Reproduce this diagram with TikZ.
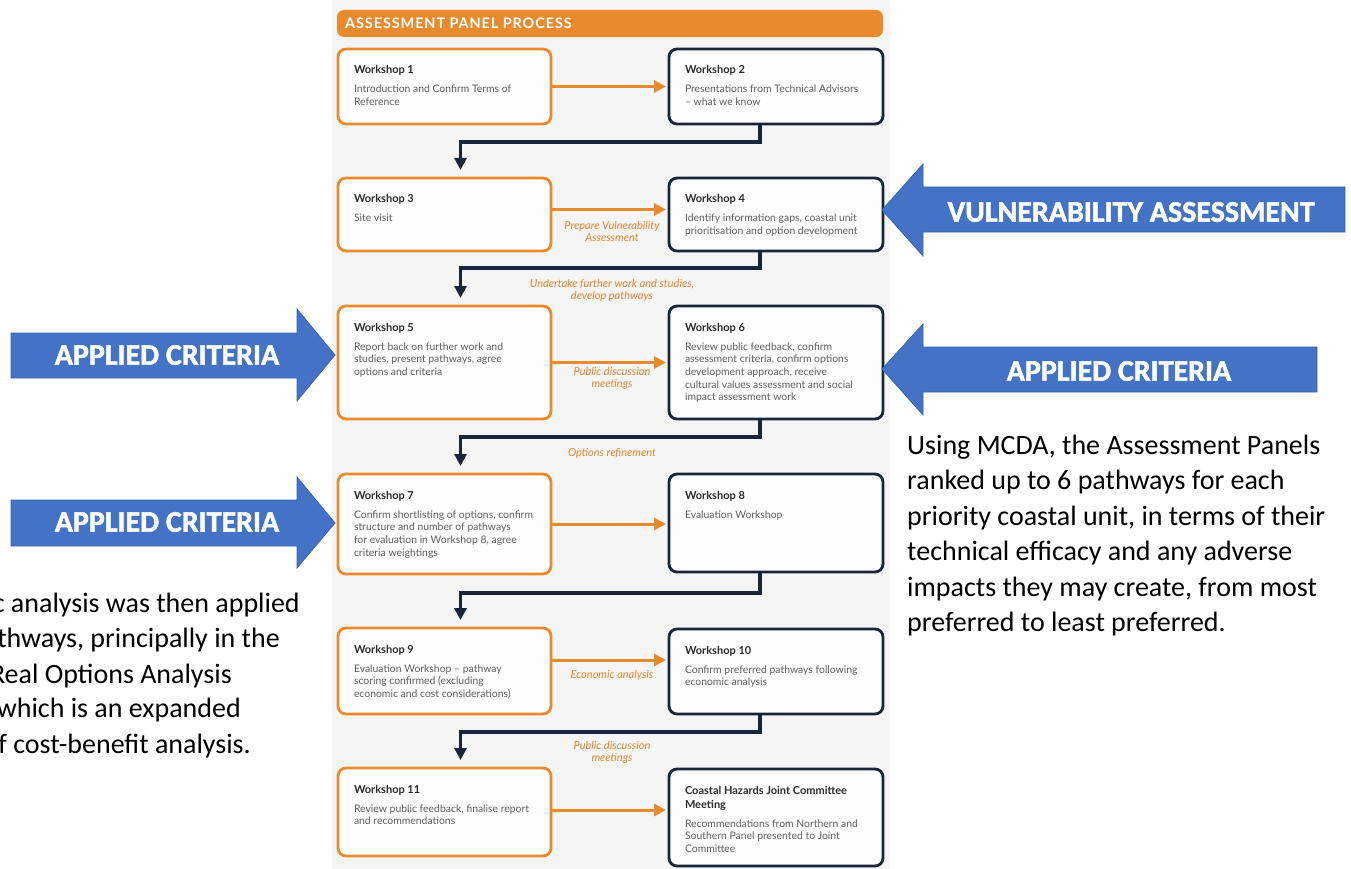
\documentclass[tikz,border=0pt]{standalone}
\usepackage{fontspec}
\setmainfont{Lato}
\newfontfamily\annfont{Carlito}
\newfontfamily\callfont[FakeBold=1.6]{Carlito Bold}
\usetikzlibrary{arrows.meta}

\definecolor{orangeC}{HTML}{E98A2E}
\definecolor{navyC}{HTML}{17263A}
\definecolor{panelC}{HTML}{F5F5F5}
\definecolor{boxC}{HTML}{FDFDFD}
\definecolor{ttlC}{HTML}{2B2B2B}
\definecolor{bodyC}{HTML}{5E5E5E}
\definecolor{lblC}{HTML}{E5852F}
\definecolor{blueC}{HTML}{4472C4}
\definecolor{blueEdge}{HTML}{3A64B0}

% workshop box contents: bold heading, then grey body lines
\newcommand\wscontent[2]{\parbox[t]{200pt}{\raggedright
  \fontsize{11}{14}\selectfont\bfseries\leavevmode\textcolor{ttlC}{#1}\par
  \vspace{6.3pt}%
  \fontsize{10.4}{12.7}\selectfont\mdseries\leavevmode\textcolor{bodyC}{#2}\par}}

\tikzset{
  obox/.style={draw=orangeC, fill=boxC, line width=2.8pt, rounded corners=8pt,
    anchor=north west, inner sep=0pt, outer sep=0pt},
  nbox/.style={obox, draw=navyC},
  wtext/.style={anchor=base west, inner sep=0pt, outer sep=0pt},
  oarrow/.style={draw=orangeC, line width=3pt,
    -{Triangle[length=12pt,width=12pt]}, shorten >=3pt},
  narrow/.style={draw=navyC, line width=3.2pt,
    -{Triangle[length=12pt,width=12pt]}, shorten >=8pt},
  lbl/.style={text=lblC, font=\fontsize{11}{12}\selectfont\itshape,
    align=center, inner sep=0pt},
  bluearrow/.style={fill=blueC, draw=blueEdge, line width=0.8pt},
  bluetext/.style={text=white, font=\callfont\fontsize{30}{30}\selectfont,
    inner sep=0pt},
  note/.style={inner sep=0pt, font=\annfont\fontsize{28}{35.5}\selectfont},
}

\begin{document}
\begin{tikzpicture}[x=1pt,y=-1pt]
\useasboundingbox (0,0) rectangle (1351,869);
\clip (0,0) rectangle (1351,869);

% grey panel behind the process chart
\fill[panelC] (332,0) rectangle (890,869);

% heading bar
\node[fill=orangeC, rounded corners=7pt, minimum width=546pt, minimum height=27pt,
  anchor=north west, inner sep=0pt, outer sep=0pt] (bar) at (337,10) {};
\node[anchor=base west, inner sep=0pt, text=white,
  font=\fontsize{14.5}{14.5}\selectfont\bfseries\addfontfeature{LetterSpace=6}]
  (bartext) at (345,28.5) {ASSESSMENT PANEL PROCESS};

% workshop boxes
\node[obox, minimum width=213pt, minimum height=75pt]  (w1) at (338,49) {};
\node[nbox, minimum width=214pt, minimum height=75pt]  (w2) at (669,49) {};
\node[obox, minimum width=213pt, minimum height=73pt]  (w3) at (338,178) {};
\node[nbox, minimum width=214pt, minimum height=73pt]  (w4) at (669,178) {};
\node[obox, minimum width=213pt, minimum height=113pt] (w5) at (338,306) {};
\node[nbox, minimum width=214pt, minimum height=113pt] (w6) at (669,306) {};
\node[obox, minimum width=213pt, minimum height=100pt] (w7) at (338,474) {};
\node[nbox, minimum width=214pt, minimum height=98pt]  (w8) at (669,474) {};
\node[obox, minimum width=213pt, minimum height=86pt]  (w9) at (338,628) {};
\node[nbox, minimum width=214pt, minimum height=85pt]  (w10) at (669,629) {};
\node[obox, minimum width=213pt, minimum height=88pt]  (w11) at (338,768) {};
\node[nbox, minimum width=214pt, minimum height=97pt]  (jc) at (669,769) {};

% box texts
\node[wtext] (w1t) at ([xshift=16pt,yshift=-25pt]w1.north west)
  {\wscontent{Workshop 1}{Introduction and Confirm Terms of\\Reference}};
\node[wtext] (w2t) at ([xshift=16pt,yshift=-25pt]w2.north west)
  {\wscontent{Workshop 2}{Presentations from Technical Advisors\\-- what we know}};
\node[wtext] (w3t) at ([xshift=16pt,yshift=-25pt]w3.north west)
  {\wscontent{Workshop 3}{Site visit}};
\node[wtext] (w4t) at ([xshift=16pt,yshift=-25pt]w4.north west)
  {\wscontent{Workshop 4}{Identify information gaps, coastal unit\\prioritisation and option development}};
\node[wtext] (w5t) at ([xshift=16pt,yshift=-25pt]w5.north west)
  {\wscontent{Workshop 5}{Report back on further work and\\studies, present pathways, agree\\options and criteria}};
\node[wtext] (w6t) at ([xshift=16pt,yshift=-25pt]w6.north west)
  {\wscontent{Workshop 6}{Review public feedback, confirm\\assessment criteria, confirm options\\development approach, receive\\cultural values assessment and social\\impact assessment work}};
\node[wtext] (w7t) at ([xshift=16pt,yshift=-25pt]w7.north west)
  {\wscontent{Workshop 7}{Confirm shortlisting of options, confirm\\structure and number of pathways\\for evaluation in Workshop 8, agree\\criteria weightings}};
\node[wtext] (w8t) at ([xshift=16pt,yshift=-25pt]w8.north west)
  {\wscontent{Workshop 8}{Evaluation Workshop}};
\node[wtext] (w9t) at ([xshift=16pt,yshift=-25pt]w9.north west)
  {\wscontent{Workshop 9}{Evaluation Workshop -- pathway\\scoring confirmed (excluding\\economic and cost considerations)}};
\node[wtext] (w10t) at ([xshift=16pt,yshift=-25pt]w10.north west)
  {\wscontent{Workshop 10}{Confirm preferred pathways following\\economic analysis}};
\node[wtext] (w11t) at ([xshift=16pt,yshift=-25pt]w11.north west)
  {\wscontent{Workshop 11}{Review public feedback, finalise report\\and recommendations}};
\node[wtext] (jct) at ([xshift=16pt,yshift=-25pt]jc.north west)
  {\wscontent{Coastal Hazards Joint Committee\\Meeting}{Recommendations from Northern and\\Southern Panel presented to Joint\\Committee}};

% orange arrows across each row
\coordinate (a1) at (w1.east);
\coordinate (a3) at ([yshift=5pt]w3.east);
\coordinate (a5) at (w5.east);
\coordinate (a7) at (w7.east);
\coordinate (a9) at ([yshift=11pt]w9.east);
\coordinate (a11) at ([yshift=2pt]w11.east);
\draw[oarrow] (a1) -- (a1 -| w2.west);
\draw[oarrow] (a3) -- (a3 -| w4.west);
\draw[oarrow] (a5) -- (a5 -| w6.west);
\draw[oarrow] (a7) -- (a7 -| w8.west);
\draw[oarrow] (a9) -- (a9 -| w10.west);
\draw[oarrow] (a11) -- (a11 -| jc.west);

% dark connectors down to the next row
\draw[narrow] ([xshift=-16pt]w2.south) -- ++(0,18) -| ([xshift=16pt]w3.north);
\draw[narrow] ([xshift=-16pt]w4.south) -- ++(0,17) -| ([xshift=16pt]w5.north);
\draw[narrow] ([xshift=-16pt]w6.south) -- ++(0,18) -| ([xshift=16pt]w7.north);
\draw[narrow] ([xshift=-16pt]w8.south) -- ++(0,21) -| ([xshift=16pt]w9.north);
\draw[narrow] ([xshift=-16pt]w10.south) -- ++(0,18) -| ([xshift=16pt]w11.north);

% step labels
\node[lbl] (l34) at (612,231) {Prepare Vulnerability\\Assessment};
\node[lbl] (l45) at (612,290) {Undertake further work and studies,\\develop pathways};
\node[lbl] (l56) at (612,378) {Public discussion\\meetings};
\node[lbl] (l67) at (612,453) {Options refinement};
\node[lbl] (l910) at (612,675) {Economic analysis};
\node[lbl] (l1011) at (612,752) {Public discussion\\meetings};

% blue call-out arrows
\fill[bluearrow] (11,333) -- (297,333) -- (297,309) -- (335,355) -- (297,401)
  -- (297,378) -- (11,378) -- cycle;
\node[bluetext] (ac1) at (167,355) {APPLIED CRITERIA};
\fill[bluearrow] (11,500) -- (297,500) -- (297,477) -- (335,523) -- (297,568)
  -- (297,546) -- (11,546) -- cycle;
\node[bluetext] (ac2) at (167,522) {APPLIED CRITERIA};
\fill[bluearrow] (1345,187) -- (923,187) -- (923,164) -- (882,210) -- (923,256)
  -- (923,232) -- (1345,232) -- cycle;
\node[bluetext] (va) at (1131,212) {VULNERABILITY ASSESSMENT};
\fill[bluearrow] (1317,347) -- (923,347) -- (923,324) -- (882,369) -- (923,415)
  -- (923,392) -- (1317,392) -- cycle;
\node[bluetext] (ac3) at (1119,371) {APPLIED CRITERIA};

% notes
\node[note, anchor=base west] (mcda) at (907,454)
  {\parbox[t]{440pt}{\annfont\fontsize{28}{35.5}\selectfont
   Using MCDA, the Assessment Panels\\
   ranked up to 6 pathways for each\\
   priority coastal unit, in terms of their\\
   technical efficacy and any adverse\\
   impacts they may create, from most\\
   preferred to least preferred.}};

\node[note, anchor=base east] (e1) at (300,612) {c analysis was then applied};
\node[note, anchor=base east] (e2) at (280,647) {thways, principally in the};
\node[note, anchor=base east] (e3) at (232,683) {Real Options Analysis};
\node[note, anchor=base east] (e4) at (241,717) {which is an expanded};
\node[note, anchor=base east] (e5) at (251,753) {f cost-benefit analysis.};
\end{tikzpicture}
\end{document}
